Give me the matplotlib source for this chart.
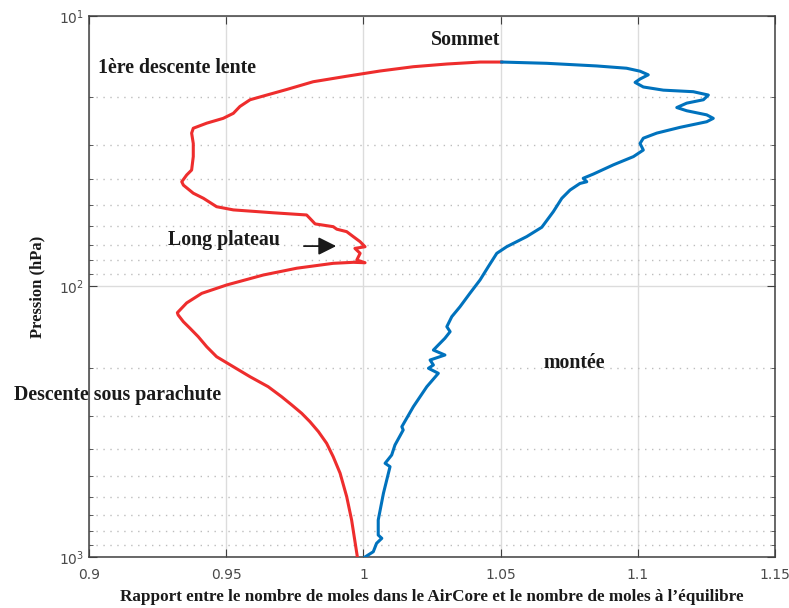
import numpy as np
import matplotlib.pyplot as plt
from matplotlib.ticker import LogLocator, NullFormatter, FixedLocator

# descente (rouge), du sommet vers le sol
red_x = [1.0504, 1.0425, 1.0304, 1.0182, 1.0061, 0.9939, 0.9817, 0.9720, 0.9648, 0.9587,
         0.9550, 0.9526, 0.9489, 0.9429, 0.9380, 0.9374, 0.9380, 0.9380, 0.9374, 0.9356,
         0.9338, 0.9344, 0.9380, 0.9417, 0.9465, 0.9526, 0.9672, 0.9793, 0.9805, 0.9824,
         0.9890, 0.9903, 0.9939, 0.9963, 0.9988, 1.0006, 0.9969, 0.9988, 0.9976, 1.0006,
         0.9963, 0.9890, 0.9757, 0.9635, 0.9502, 0.9411, 0.9356, 0.9322, 0.9325, 0.9344,
         0.9368, 0.9398, 0.9429, 0.9465, 0.9526, 0.9587, 0.9653, 0.9702, 0.9739, 0.9775,
         0.9805, 0.9836, 0.9866, 0.9890, 0.9915, 0.9939, 0.9957, 0.9978]
red_p = [14.8, 14.8, 15.05, 15.4, 15.97, 16.7, 17.5, 18.7, 19.6, 20.4,
         21.6, 22.9, 23.9, 24.9, 26.0, 27.1, 29.6, 33.1, 37.1, 38.7,
         41.0, 42.2, 45.2, 47.2, 50.7, 52.1, 53.4, 54.4, 56.0, 58.7,
         60.1, 61.4, 62.7, 65.4, 68.3, 71.3, 72.3, 75.4, 79.8, 81.7,
         81.4, 82.1, 85.6, 90.7, 98.7, 106, 115, 125, 127.5, 135,
         142.7, 153.3, 167, 181.8, 198, 215.6, 234.7, 255.6, 274.2, 294.3,
         316, 344, 380, 426, 490, 598, 730, 1000]

# montée (bleu), du sommet vers le sol
blue_x = [1.0504, 1.0668, 1.0850, 1.0959, 1.1008, 1.1038, 1.1008, 1.0990, 1.1020, 1.1093,
          1.1202, 1.1257, 1.1239, 1.1178, 1.1142, 1.1178, 1.1251, 1.1275, 1.1251, 1.1154,
          1.1069, 1.1020, 1.1008, 1.1020, 1.0984, 1.0911, 1.0838, 1.0801, 1.0814, 1.0789,
          1.0753, 1.0723, 1.0692, 1.0650, 1.0595, 1.0522, 1.0486, 1.0455, 1.0425, 1.0388,
          1.0352, 1.0322, 1.0304, 1.0316, 1.0297, 1.0279, 1.0255, 1.0297, 1.0243, 1.0255,
          1.0237, 1.0273, 1.0231, 1.0182, 1.0140, 1.0145, 1.0115, 1.0103, 1.0079, 1.0097,
          1.0073, 1.0054, 1.0054, 1.0067, 1.0048, 1.0036, 1.0006]
blue_p = [14.8, 14.96, 15.3, 15.6, 16.0, 16.5, 17.1, 17.6, 18.3, 18.8,
          19.05, 19.6, 20.4, 21.0, 21.8, 22.4, 23.2, 23.9, 24.6, 25.8,
          27.1, 28.3, 29.6, 31.3, 33.1, 35.5, 38.4, 39.8, 41.0, 41.6,
          44.0, 47.2, 52.9, 60.4, 65.4, 71.3, 75.4, 84.5, 94.6, 106,
          118.8, 129.3, 140.8, 146.9, 155.4, 162.2, 171.8, 179.2, 187, 195.1,
          200.6, 209.4, 234.7, 278.2, 329.9, 339.3, 385.5, 419.8, 450.4, 463.6,
          581.4, 730, 829.5, 853, 890, 956, 1000]

x_ticks = [0.9, 0.95, 1.0, 1.05, 1.1, 1.15]
x_labels = ["0.9", "0.95", "1", "1.05", "1.1", "1.15"]

serif = "Liberation Serif"
fig = plt.figure(figsize=(7.89, 6.08), dpi=100)
ax = fig.add_axes([0.1128, 0.0839, 0.8695, 0.8898])

ax.plot(red_x, red_p, color="#EE2D2D", lw=2.2, zorder=3)
ax.plot(blue_x, blue_p, color="#0072BD", lw=2.2, zorder=3)

ax.set_yscale("log")
ax.set_xlim(0.9, 1.15)
ax.set_ylim(1000, 10)
ax.xaxis.set_major_locator(FixedLocator(x_ticks))
ax.set_xticklabels(x_labels)
ax.yaxis.set_major_locator(LogLocator(base=10, numticks=5))
ax.yaxis.set_minor_locator(LogLocator(base=10, subs=np.arange(2, 10), numticks=20))
ax.yaxis.set_minor_formatter(NullFormatter())

ax.grid(True, which="major", color="#dcdcdc", lw=1.0, ls="-", zorder=0)
ax.grid(True, which="minor", axis="y", color="#bdbdbd", lw=1.0, ls=(0, (1, 4)), zorder=0)

ax.tick_params(which="both", direction="in", top=True, right=True, colors="#404040",
               labelcolor="#4a4a4a", labelsize=10)
ax.tick_params(which="major", length=6)
ax.tick_params(which="minor", length=3)
ax.tick_params(axis="x", pad=8)
for s in ax.spines.values():
    s.set_color("#404040")
    s.set_linewidth(1.1)

ax.set_xlabel("Rapport entre le nombre de moles dans le AirCore et le nombre de moles à l’équilibre",
              family=serif, fontweight="bold", fontsize=12.3, labelpad=5, color="#1a1a1a")
ax.set_ylabel("Pression (hPa)", family=serif, fontweight="bold", fontsize=12, labelpad=10,
              color="#1a1a1a")

tkw = dict(family=serif, fontweight="bold", fontsize=14.3, color="#1a1a1a")
ax.text(1.0374, 12.3, "Sommet", ha="center", va="center", **tkw)
ax.text(0.9033, 15.6, "1ère descente lente", ha="left", va="center", **tkw)
ax.text(0.9288, 67.3, "Long plateau", ha="left", va="center", **tkw)
ax.text(1.0658, 191.7, "montée", ha="left", va="center", **tkw)
ax.text(0.8727, 252, "Descente sous parachute", ha="left", va="center", clip_on=False, **tkw)
ax.annotate("", xy=(0.9911, 70.9), xytext=(0.9773, 70.9),
            arrowprops=dict(arrowstyle="-|>,head_length=0.6,head_width=0.3", color="#1a1a1a",
                            lw=1.3, mutation_scale=18))

fig.savefig("out.png", dpi=100)
